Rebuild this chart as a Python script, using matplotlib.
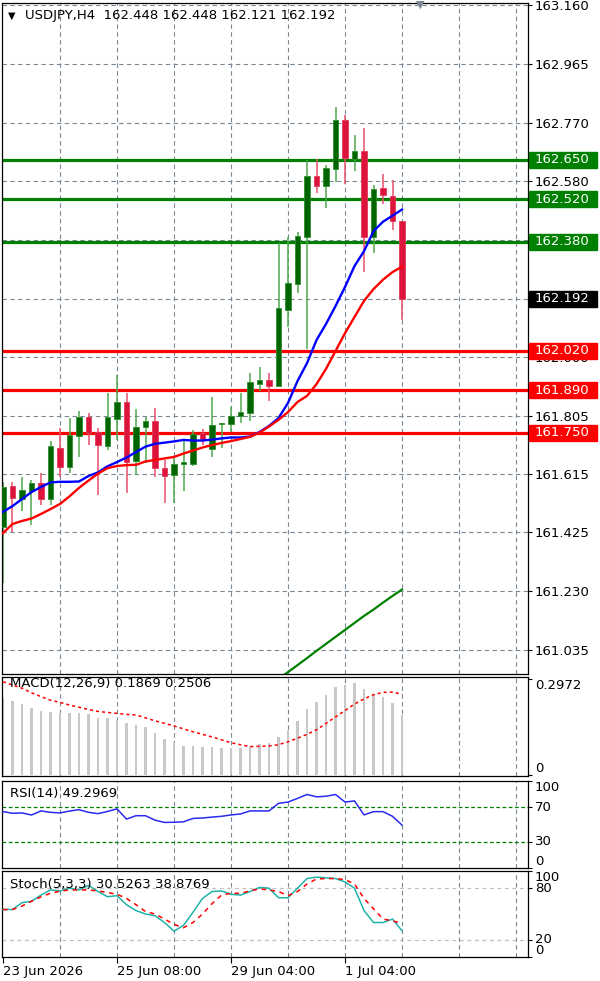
import numpy as np
import matplotlib
matplotlib.use("Agg")
import matplotlib.pyplot as plt
from matplotlib.patches import Rectangle
from matplotlib.transforms import blended_transform_factory

# ---- data (USDJPY H4, 43 bars) ----
opens = [161.440, 161.574, 161.531, 161.560, 161.584, 161.531, 161.701, 161.639, 161.740, 161.804,
         161.754, 161.707, 161.795, 161.851, 161.658, 161.769, 161.789, 161.634, 161.611, 161.647,
         161.648, 161.749, 161.696, 161.780, 161.780, 161.806, 161.817, 161.911, 161.924, 161.906,
         162.155, 162.240, 162.397, 162.598, 162.565, 162.620, 162.781, 162.653, 162.679, 162.397,
         162.558, 162.532, 162.448]
highs = [161.588, 161.588, 161.606, 161.595, 161.617, 161.723, 161.765, 161.799, 161.823, 161.817,
         161.765, 161.883, 161.941, 161.881, 161.828, 161.803, 161.831, 161.661, 161.666, 161.729,
         161.760, 161.762, 161.868, 161.783, 161.836, 161.883, 161.949, 161.966, 161.949, 162.375,
         162.397, 162.413, 162.649, 162.652, 162.633, 162.825, 162.798, 162.732, 162.754, 162.567,
         162.602, 162.583, 162.448]
lows = [161.256, 161.424, 161.494, 161.447, 161.512, 161.512, 161.606, 161.619, 161.670, 161.710,
        161.546, 161.694, 161.727, 161.551, 161.612, 161.650, 161.606, 161.518, 161.518, 161.560,
        161.641, 161.710, 161.672, 161.702, 161.754, 161.784, 161.789, 161.889, 161.856, 161.906,
        162.100, 162.210, 162.027, 162.540, 162.492, 162.576, 162.569, 162.613, 162.279, 162.342,
        162.503, 162.419, 162.121]
closes = [161.572, 161.535, 161.562, 161.584, 161.533, 161.707, 161.639, 161.743, 161.804, 161.751,
          161.710, 161.801, 161.851, 161.655, 161.769, 161.789, 161.636, 161.608, 161.647, 161.655,
          161.746, 161.729, 161.776, 161.782, 161.807, 161.820, 161.917, 161.924, 161.906, 162.161,
          162.243, 162.399, 162.597, 162.565, 162.622, 162.781, 162.655, 162.679, 162.397, 162.554,
          162.534, 162.448, 162.192]

ma_fast = [161.490, 161.509, 161.532, 161.555, 161.572, 161.587, 161.589, 161.589, 161.590, 161.608,
           161.620, 161.640, 161.654, 161.669, 161.687, 161.705, 161.714, 161.718, 161.722, 161.727,
           161.725, 161.725, 161.728, 161.732, 161.735, 161.735, 161.738, 161.753, 161.773, 161.799,
           161.849, 161.921, 161.980, 162.056, 162.109, 162.168, 162.231, 162.300, 162.349, 162.415,
           162.446, 162.466, 162.486]
ma_slow = [161.420, 161.450, 161.460, 161.468, 161.483, 161.499, 161.516, 161.541, 161.569, 161.593,
           161.616, 161.634, 161.641, 161.644, 161.645, 161.656, 161.661, 161.666, 161.671, 161.682,
           161.692, 161.702, 161.710, 161.717, 161.723, 161.730, 161.737, 161.751, 161.771, 161.793,
           161.819, 161.852, 161.872, 161.911, 161.961, 162.020, 162.079, 162.132, 162.185, 162.224,
           162.255, 162.280, 162.298]
ma_long = [np.nan] * 29 + [160.940, 160.962, 160.985, 161.008, 161.032, 161.055, 161.078, 161.101,
                           161.124, 161.147, 161.168, 161.191, 161.213, 161.234]

green_levels = [162.650, 162.520, 162.380]
red_levels = [162.020, 161.890, 161.750]
last_price = 162.192
price_ticks = [163.160, 162.965, 162.770, 162.580, 162.385, 162.190, 162.000,
               161.805, 161.615, 161.425, 161.230, 161.035]

macd_hist = [0.238, 0.229, 0.219, 0.209, 0.198, 0.196, 0.191, 0.191, 0.193, 0.188,
             0.178, 0.178, 0.171, 0.160, 0.155, 0.150, 0.131, 0.112, 0.103, 0.090,
             0.090, 0.088, 0.086, 0.084, 0.083, 0.085, 0.090, 0.096, 0.098, 0.119,
             0.140, 0.167, 0.204, 0.225, 0.248, 0.274, 0.279, 0.284, 0.267, 0.250,
             0.241, 0.222, 0.1869]
macd_signal = [0.289, 0.279, 0.269, 0.255, 0.243, 0.232, 0.225, 0.217, 0.210, 0.203,
               0.197, 0.194, 0.191, 0.188, 0.186, 0.177, 0.168, 0.160, 0.152, 0.143,
               0.134, 0.126, 0.118, 0.109, 0.100, 0.094, 0.088, 0.089, 0.090, 0.094,
               0.103, 0.114, 0.126, 0.140, 0.160, 0.180, 0.200, 0.220, 0.236, 0.249,
               0.256, 0.257, 0.2506]

rsi = [64.8, 62.9, 63.3, 60.9, 65.6, 64.0, 63.3, 65.5, 67.0, 64.0,
       62.5, 65.0, 68.0, 56.2, 60.1, 60.1, 55.0, 52.4, 52.6, 53.1,
       57.0, 57.5, 58.5, 59.4, 61.0, 62.1, 65.6, 65.6, 65.6, 74.3,
       75.8, 80.0, 84.5, 81.8, 82.5, 84.5, 75.8, 77.1, 61.0, 64.8,
       64.8, 59.4, 49.2969]

stoch_k = [55.2, 55.2, 63.2, 64.8, 72.0, 78.0, 76.8, 80.0, 78.0, 83.3,
           76.1, 70.1, 71.3, 60.8, 54.0, 50.0, 48.0, 40.1, 30.0, 36.8,
           52.1, 68.1, 76.1, 76.8, 72.9, 72.0, 76.1, 80.9, 80.0, 68.9,
           68.9, 80.0, 91.2, 92.9, 92.1, 91.2, 87.3, 80.0, 54.0, 40.1,
           40.1, 44.1, 30.5263]
stoch_d = [55.2, 55.2, 59.3, 64.8, 70.0, 74.1, 76.5, 78.0, 78.0, 78.0,
           76.8, 75.0, 72.9, 68.1, 60.8, 52.9, 50.0, 44.1, 38.0, 34.0,
           40.1, 50.0, 62.0, 72.0, 74.1, 74.1, 76.8, 79.2, 78.0, 76.1,
           71.3, 76.1, 84.9, 90.8, 91.2, 91.2, 90.0, 84.9, 68.1, 56.1,
           44.1, 42.1, 38.8769]

date_pos = [0, 12, 24, 36]
date_labels = ["23 Jun 2026", "25 Jun 08:00", "29 Jun 04:00", "1 Jul 04:00"]

idx = np.arange(len(closes))
W, H = 600, 981
FS = 9.5
grid_col = "#7a8896"


def fy(px):
    return 1 - px / H


fig = plt.figure(figsize=(W / 100, H / 100), dpi=100)
fig.patch.set_facecolor("white")

x0, xw = 2 / W, 526 / W
ax = fig.add_axes([x0, fy(674), xw, (674 - 3) / H])
axm = fig.add_axes([x0, fy(776), xw, (776 - 677) / H])
axr = fig.add_axes([x0, fy(868), xw, (868 - 781) / H])
axs = fig.add_axes([x0, fy(957), xw, (957 - 871) / H])
panels = [ax, axm, axr, axs]

xlim = (-0.105, 55.26)
for a in panels:
    a.set_xlim(*xlim)
    for s in a.spines.values():
        s.set_color("black")
        s.set_linewidth(0.9)
    a.yaxis.tick_right()
    a.tick_params(axis="y", direction="out", length=3, width=0.8, colors="black",
                  labelsize=FS, pad=2)
    a.tick_params(axis="x", length=0, labelbottom=False)
    for g in range(6, 56, 6):
        a.axvline(g, color=grid_col, lw=0.8, ls=(0, (4, 3)), zorder=0.5)

# ---- main price panel ----
ax.set_ylim(160.9557, 163.1666)
ax.set_yticks(price_ticks)
ax.set_yticklabels(["%.3f" % p for p in price_ticks])
for p in price_ticks:
    ax.axhline(p, color=grid_col, lw=0.8, ls=(0, (4, 3)), zorder=0.5)

for lv in green_levels:
    ax.axhline(lv, color="#008000", lw=2.3, zorder=1.5)
for lv in red_levels:
    ax.axhline(lv, color="#ff0000", lw=2.3, zorder=1.5)

o = np.array(opens)
c = np.array(closes)
up = c >= o
body = np.where(np.abs(c - o) < 0.003, 0.003, c - o)
ax.vlines(idx[up], np.array(lows)[up], np.array(highs)[up], color="#4ea84e", lw=1.1, zorder=2)
ax.vlines(idx[~up], np.array(lows)[~up], np.array(highs)[~up], color="#e8506c", lw=1.1, zorder=2)
ax.bar(idx[up], body[up], bottom=o[up], width=0.55, color="#006400",
       edgecolor="#2f8f2f", linewidth=0.6, zorder=3)
ax.bar(idx[~up], body[~up], bottom=o[~up], width=0.55, color="#dc143c",
       edgecolor="#e03a5a", linewidth=0.6, zorder=3)

ax.plot(idx, ma_fast, color="#0000ff", lw=1.7, zorder=4)
ax.plot(idx, ma_slow, color="#ff0000", lw=1.7, zorder=4)
ax.plot(idx, ma_long, color="#008000", lw=1.6, zorder=4)

bt = blended_transform_factory(ax.transAxes, ax.transData)
box_h = 16 / 303.5
for lv, col in [(v, "#008000") for v in green_levels] + [(v, "#ff0000") for v in red_levels] + \
        [(last_price, "black")]:
    ax.add_patch(Rectangle((1.002, lv - box_h / 2), 68 / 526, box_h, transform=bt,
                           facecolor=col, edgecolor=col, clip_on=False, zorder=6))
    ax.text(1.0 + 7 / 526, lv, "%.3f" % lv, transform=bt, color="white", fontsize=FS,
            va="center", ha="left", zorder=7, clip_on=False)

fig.text(8 / W, fy(16), "\u25bc", fontsize=7, va="center", ha="left", color="black")
fig.text(25 / W, fy(16), "USDJPY,H4  162.448 162.448 162.121 162.192", fontsize=FS,
         va="center", ha="left", color="black")
fig.text(420 / W, fy(5), "\u25bc", fontsize=8, va="center", ha="center", color="#7d8894")


def side_labels(a, items):
    t = blended_transform_factory(a.transAxes, a.transData)
    a.set_yticks([v for v, _, _ in items])
    a.set_yticklabels([])
    for v, txt, va in items:
        a.text(1.0 + 7 / 526, v, txt, transform=t, fontsize=FS, va=va, ha="left",
               clip_on=False)


# ---- MACD ----
axm.set_ylim(-0.0031, 0.3038)
axm.bar(idx, macd_hist, width=0.22, color="#c8c8c8", zorder=2)
axm.plot(idx, macd_signal, color="#ff0000", lw=1.1, ls=(0, (2, 2)), zorder=3)
side_labels(axm, [(0.2972, "0.2972", "top"), (0, "0", "bottom")])
axm.text(8 / 526, 0.93, "MACD(12,26,9) 0.1869 0.2506", transform=axm.transAxes,
         fontsize=FS, va="center", ha="left")

# ---- RSI ----
axr.set_ylim(0, 100)
for lv in (70, 30):
    axr.axhline(lv, color="#008000", lw=0.9, ls=(0, (3, 2)), zorder=1)
axr.plot(idx, rsi, color="#2a2af0", lw=1.1, zorder=3)
side_labels(axr, [(100, "100", "top"), (70, "70", "center"), (30, "30", "center"),
                  (0, "0", "bottom")])
axr.text(8 / 526, 0.86, "RSI(14) 49.2969", transform=axr.transAxes,
         fontsize=FS, va="center", ha="left")

# ---- Stochastic ----
axs.set_ylim(0, 100)
for lv in (80, 20):
    axs.axhline(lv, color="#c0c0c0", lw=0.9, ls=(0, (3, 3)), zorder=1)
axs.plot(idx, stoch_k, color="#20b2aa", lw=1.1, zorder=3)
axs.plot(idx, stoch_d, color="#ff0000", lw=1.1, ls=(0, (3, 3)), zorder=3)
side_labels(axs, [(100, "100", "top"), (80, "80", "center"), (20, "20", "center"),
                  (0, "0", "bottom")])
axs.text(8 / 526, 0.84, "Stoch(5,3,3) 30.5263 38.8769", transform=axs.transAxes,
         fontsize=FS, va="center", ha="left")
axs.set_xticks(date_pos)
axs.set_xticklabels(date_labels, ha="left")
axs.tick_params(axis="x", length=4, width=0.8, direction="out", labelbottom=True,
                labelsize=FS, pad=2)

fig.savefig("out.png", dpi=100)
